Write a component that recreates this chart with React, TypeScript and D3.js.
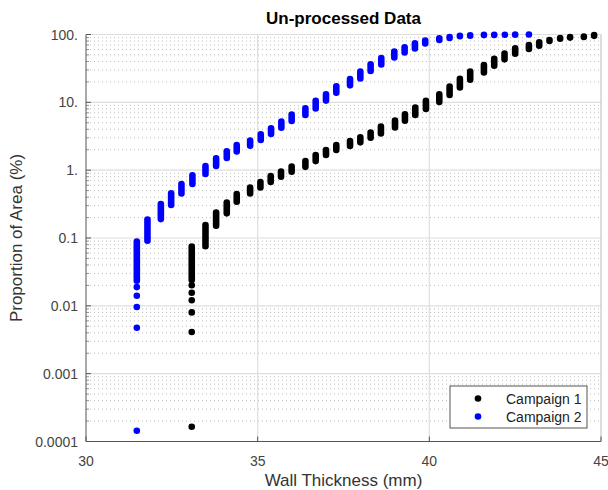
import React from "react";
import * as d3 from "d3";

// ---- data ----
const campaign1X = [33.08, 33.48, 33.79, 34.10, 34.39, 34.78, 35.08, 35.38, 35.68, 35.99, 36.39, 36.69, 36.99, 37.29, 37.69, 37.99, 38.29, 38.59, 39.00, 39.29, 39.59, 39.90, 40.29, 40.59, 40.89, 41.19, 41.59, 41.89, 42.19, 42.50, 42.90, 43.20, 43.50, 43.81, 44.10, 44.50, 44.80];
const campaign1Low = [0.024, 0.0757, 0.152, 0.231, 0.343, 0.454, 0.557, 0.668, 0.80, 0.949, 1.12, 1.36, 1.67, 1.98, 2.27, 2.57, 3.01, 3.48, 4.27, 5.36, 6.50, 7.98, 10.1, 12.8, 16.6, 21.6, 27.6, 34.7, 43.0, 52.1, 61.1, 68.4, 80.2, 86.5, 90.0, 92.0, 95.5];
const campaign1High = [0.0746, 0.1555, 0.237, 0.333, 0.446, 0.553, 0.668, 0.82, 0.953, 1.13, 1.36, 1.67, 1.98, 2.35, 2.69, 3.05, 3.58, 4.39, 5.38, 6.66, 8.36, 10.5, 13.1, 17.1, 22.2, 28.4, 35.5, 43.8, 52.5, 62.6, 70.0, 76.7, 83.0, 88.5, 92.0, 93.0, 98.5];
const campaign1TailX = 33.08;
const campaign1TailY = [0.0201, 0.0156, 0.0121, 0.0080, 0.00411, 0.000165];

const campaign2X = [31.48, 31.79, 32.18, 32.48, 32.78, 33.10, 33.48, 33.79, 34.10, 34.39, 34.78, 35.09, 35.39, 35.69, 35.99, 36.39, 36.69, 36.99, 37.29, 37.69, 37.99, 38.29, 38.60, 38.98, 39.28, 39.58, 39.88, 40.29, 40.59, 40.89, 41.19, 41.59, 41.89, 42.20, 42.50, 42.90];
const campaign2Low = [0.0234, 0.0912, 0.190, 0.306, 0.454, 0.625, 0.877, 1.15, 1.51, 1.89, 2.30, 2.79, 3.41, 4.23, 5.31, 6.50, 8.14, 10.6, 13.9, 17.8, 22.5, 29.0, 36.2, 46.0, 54.5, 62.4, 73.9, 83.0, 89.0, 94.0, 96.0, 98.0, 98.6, 99.0, 99.4, 100];
const campaign2High = [0.0885, 0.187, 0.317, 0.456, 0.625, 0.839, 1.15, 1.50, 1.90, 2.35, 2.73, 3.38, 4.14, 5.20, 6.59, 8.17, 10.5, 13.1, 17.2, 22.1, 28.4, 36.4, 45.1, 56.0, 64.7, 74.2, 81.3, 87.9, 92.0, 96.0, 97.5, 98.6, 99.0, 99.3, 99.6, 100];
const campaign2TailX = 31.48;
const campaign2TailY = [0.0189, 0.0141, 0.0096, 0.00475, 0.000144];

const xTicks = [30, 35, 40, 45];
const yTickValues = [100, 10, 1, 0.1, 0.01, 0.001, 0.0001];
const yTickLabels = ["100.", "10.", "1.", "0.1", "0.01", "0.001", "0.0001"];
const seriesNames = ["Campaign 1", "Campaign 2"];
const seriesColors = ["#000000", "#0000ff"];

const W = 608, H = 490;
const L = 86, R = 601, T = 34.5, B = 441.5;
const FONT = "'Liberation Sans', Arial, sans-serif";

export default function App() {
  const x = d3.scaleLinear().domain([30, 45]).range([L, R]);
  const y = d3.scaleLog().domain([0.0001, 100]).range([B, T]);
  const rad = 3.3;

  const minors: number[] = [];
  for (let e = -4; e < 2; e++) for (let m = 2; m <= 9; m++) minors.push(m * Math.pow(10, e));

  const series = [
    { xs: campaign1X, lo: campaign1Low, hi: campaign1High, tx: campaign1TailX, ty: campaign1TailY, color: seriesColors[0] },
    { xs: campaign2X, lo: campaign2Low, hi: campaign2High, tx: campaign2TailX, ty: campaign2TailY, color: seriesColors[1] },
  ];

  return (
    <svg width={W} height={H} style={{ position: "absolute", left: 0, top: 0, background: "#fff" }} fontFamily={FONT}>
      <rect x={0} y={0} width={W} height={H} fill="#fff" />
      {/* minor gridlines */}
      {minors.map((v, i) => (
        <line key={"m" + i} x1={L} x2={R} y1={y(v)} y2={y(v)} stroke="#bdbdbd" strokeWidth={1} strokeDasharray="1,3" />
      ))}
      {/* major gridlines */}
      {yTickValues.map((v, i) => (
        <line key={"gy" + i} x1={L} x2={R} y1={y(v)} y2={y(v)} stroke="#dedede" strokeWidth={1.2} />
      ))}
      {xTicks.slice(1, 3).map((v, i) => (
        <line key={"gx" + i} x1={x(v)} x2={x(v)} y1={T} y2={B} stroke="#dedede" strokeWidth={1.2} />
      ))}
      {/* frame */}
      <line x1={R} x2={R} y1={T} y2={B} stroke="#bbbbbb" strokeWidth={1} />
      <line x1={L} x2={L} y1={T} y2={B} stroke="#555" strokeWidth={1} />
      <line x1={L} x2={R} y1={B} y2={B} stroke="#555" strokeWidth={1} />
      {/* y ticks */}
      {yTickValues.map((v, i) => (
        <line key={"ty" + i} x1={L} x2={L + 5} y1={y(v)} y2={y(v)} stroke="#555" />
      ))}
      {minors.map((v, i) => (
        <line key={"tm" + i} x1={L} x2={L + 3} y1={y(v)} y2={y(v)} stroke="#777" strokeWidth={0.8} />
      ))}
      {xTicks.map((v, i) => (
        <line key={"tx" + i} x1={x(v)} x2={x(v)} y1={B} y2={B - 5} stroke="#555" />
      ))}
      {/* tick labels */}
      {yTickValues.map((v, i) => (
        <text key={"ly" + i} x={78} y={y(v) + 5} textAnchor="end" fontSize={14} fill="#444">{yTickLabels[i]}</text>
      ))}
      {xTicks.map((v, i) => (
        <text key={"lx" + i} x={x(v)} y={466} textAnchor="middle" fontSize={14} fill="#444">{v}</text>
      ))}
      {/* data */}
      {series.map((s, si) => (
        <g key={"s" + si}>
          {s.xs.map((xv, i) => (
            <line key={i} x1={x(xv)} x2={x(xv)} y1={y(s.lo[i])} y2={y(s.hi[i])} stroke={s.color} strokeWidth={rad * 2} strokeLinecap="round" />
          ))}
          {s.ty.map((yv, i) => (
            <circle key={"t" + i} cx={x(s.tx)} cy={y(yv)} r={rad} fill={s.color} />
          ))}
        </g>
      ))}
      {/* titles */}
      <text x={(L + R) / 2} y={24} textAnchor="middle" fontSize={17} fontWeight="bold" fill="#000">Un-processed Data</text>
      <text x={(L + R) / 2} y={486} textAnchor="middle" fontSize={17} fill="#333">Wall Thickness (mm)</text>
      <text transform={`translate(22,${(T + B) / 2}) rotate(-90)`} textAnchor="middle" fontSize={17} fill="#333">Proportion of Area (%)</text>
      {/* legend */}
      <rect x={450} y={386} width={137} height={42} fill="#fff" stroke="#555" strokeWidth={1} />
      {seriesNames.map((n, i) => (
        <g key={"lg" + i}>
          <circle cx={478} cy={398.5 + i * 18} r={rad} fill={seriesColors[i]} />
          <text x={506} y={403.5 + i * 18} fontSize={14} fill="#222">{n}</text>
        </g>
      ))}
    </svg>
  );
}
